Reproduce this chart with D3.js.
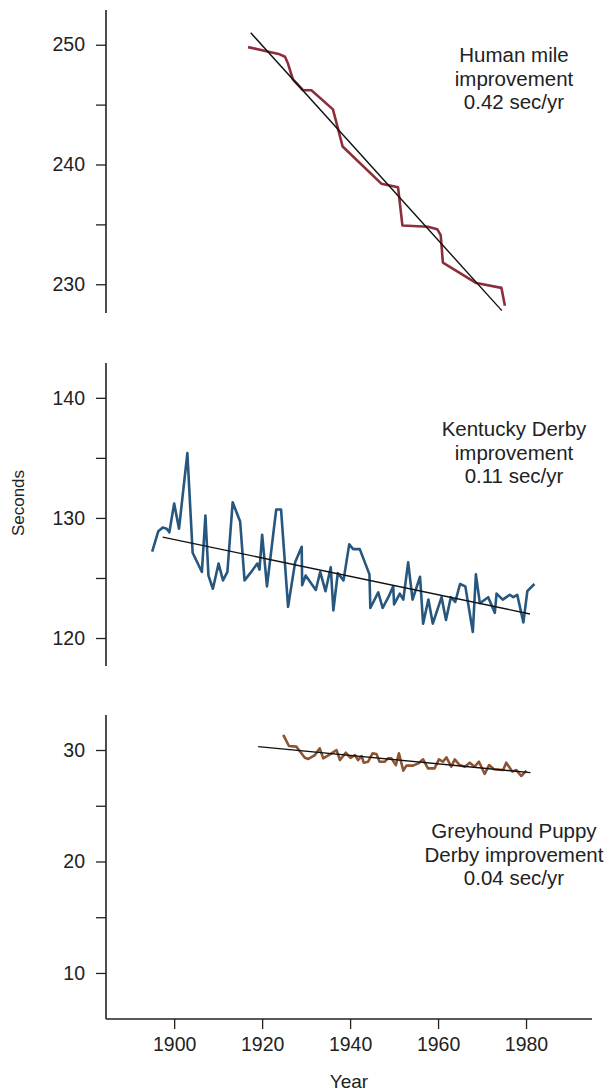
<!DOCTYPE html>
<html>
<head>
<meta charset="utf-8">
<script src="https://cdn.jsdelivr.net/npm/d3@7"></script>
<style>
    body { margin: 0; background: #fff; }
    text { font-family: "Liberation Sans", Arial, sans-serif; fill: #222; }
</style>
</head>
<body>
<svg id="chart"></svg>
<script>
// ---- data ----
const mileYears = [1916.8, 1921.7, 1924, 1925.2, 1925.8, 1927, 1929.3, 1931.2, 1936.1, 1938.3, 1947.1,
    1950.9, 1951.9, 1957.7, 1959.8, 1960.6, 1961.1, 1968.7, 1974.4, 1975.2];
const mileSeconds = [249.8, 249.4, 249.2, 249.0, 248.5, 247.1, 246.2, 246.2, 244.6, 241.5, 238.4,
    238.1, 234.9, 234.8, 234.6, 234.1, 231.8, 230.1, 229.7, 228.2];
const mileFitYears = [1917.4, 1974.5];
const mileFitSeconds = [251.0, 227.8];

const derbyYears = [1895, 1896.4, 1897.4, 1898.3, 1898.9, 1900, 1901.1, 1903, 1904.2, 1906.3,
    1907.1, 1907.8, 1908.8, 1910.1, 1911.1, 1912.1, 1913.3, 1915, 1916, 1917.3,
    1918.9, 1919.4, 1920, 1921.1, 1923.2, 1924.3, 1925.9, 1927.5, 1929, 1929.1,
    1929.9, 1932.2, 1933.2, 1934.4, 1935.6, 1936.2, 1937.2, 1938.5, 1939.8, 1940.7,
    1942.2, 1944.4, 1944.6, 1946.4, 1947.4, 1948.7, 1949.8, 1950, 1951.3, 1952.1,
    1953.2, 1954.2, 1955.9, 1956.6, 1957.8, 1958.8, 1960.8, 1961.8, 1962.9, 1963.9,
    1965, 1966.2, 1967.9, 1968.6, 1969.5, 1971.4, 1972.9, 1973.3, 1974.7, 1976.3,
    1977.1, 1978, 1979.4, 1980.3, 1981.9];
const derbySeconds = [127.2, 128.9, 129.2, 129.1, 128.8, 131.2, 129.1, 135.4, 127.1, 125.5,
    130.2, 125.2, 124.1, 126.2, 124.8, 125.5, 131.3, 129.7, 124.8, 125.4,
    126.2, 125.7, 128.6, 124.3, 130.7, 130.7, 122.6, 126.3, 127.6, 124.4,
    125.2, 124.0, 125.5, 123.9, 125.9, 122.3, 125.4, 124.8, 127.8, 127.4,
    127.4, 125.3, 122.5, 123.8, 122.5, 123.4, 124.3, 122.8, 123.7, 123.2,
    126.3, 123.2, 125.1, 121.2, 123.2, 121.2, 123.4, 121.5, 123.4, 123.0,
    124.5, 124.3, 120.5, 125.3, 122.9, 123.4, 122.1, 123.7, 123.2, 123.6,
    123.4, 123.6, 121.3, 123.9, 124.5];
const derbyFitYears = [1897.4, 1980.9];
const derbyFitSeconds = [128.4, 122.0];

const puppyYears = [1924.8, 1926.1, 1927.8, 1929.7, 1930.5, 1932, 1933.1, 1933.9, 1935.8, 1936.9,
    1937.7, 1939, 1940.1, 1941.1, 1941.8, 1942.6, 1943.1, 1944.1, 1945.1, 1946,
    1946.7, 1947.9, 1948.6, 1949.4, 1950.4, 1951.1, 1952.1, 1952.8, 1954.3, 1955.5,
    1956.6, 1957.7, 1959.2, 1960.2, 1961.1, 1961.9, 1963, 1963.8, 1964.9, 1966.1,
    1967.2, 1968.3, 1969.3, 1970.6, 1971.6, 1972.7, 1974.8, 1975.5, 1976.9, 1977.8,
    1978.9, 1980.1];
const puppySeconds = [31.35, 30.36, 30.3, 29.3, 29.2, 29.55, 30.15, 29.25, 29.7, 30.0,
    29.1, 29.76, 29.3, 29.55, 29.1, 29.46, 28.86, 28.95, 29.7, 29.64,
    28.95, 28.95, 29.25, 29.25, 28.65, 29.7, 28.15, 28.6, 28.6, 28.8,
    29.16, 28.35, 28.35, 29.16, 28.95, 29.34, 28.5, 29.16, 28.65, 28.5,
    28.86, 28.5, 28.95, 27.85, 28.65, 28.27, 28.2, 28.86, 28.06, 28.2,
    27.67, 28.15];
const puppyFitYears = [1919.1, 1981.0];
const puppyFitSeconds = [30.3, 27.97];

const mileTicks = [230, 235, 240, 245, 250];
const derbyTicks = [120, 125, 130, 135, 140];
const puppyTicks = [10, 15, 20, 25, 30];
const yearTicks = [1900, 1920, 1940, 1960, 1980];

const mileNote = ["Human mile", "improvement", "0.42 sec/yr"];
const derbyNote = ["Kentucky Derby", "improvement", "0.11 sec/yr"];
const puppyNote = ["Greyhound Puppy", "Derby improvement", "0.04 sec/yr"];

// ---- layout ----
const width = 612, height = 1092;
const left = 106, right = 592;

const svg = d3.select("#chart").attr("width", width).attr("height", height);

const x = d3.scaleLinear().domain([1884.5, 1995]).range([left, right]);

const panels = [
    { years: mileYears, secs: mileSeconds, fitX: mileFitYears, fitY: mileFitSeconds,
      ticks: mileTicks, note: mileNote, noteY: 62, color: "#8b2f3b",
      domain: [227.6, 252.9], top: 10, bottom: 313 },
    { years: derbyYears, secs: derbySeconds, fitX: derbyFitYears, fitY: derbyFitSeconds,
      ticks: derbyTicks, note: derbyNote, noteY: 436, color: "#27567e",
      domain: [117.67, 142.9], top: 363, bottom: 666 },
    { years: puppyYears, secs: puppySeconds, fitX: puppyFitYears, fitY: puppyFitSeconds,
      ticks: puppyTicks, note: puppyNote, noteY: 838, color: "#8c5433",
      domain: [5.87, 33.14], top: 715, bottom: 1019 }
];

panels.forEach(p => {
    let y = d3.scaleLinear().domain(p.domain).range([p.bottom, p.top]);

    let axis = svg.append("g")
        .attr("transform", `translate(${left}, 0)`)
        .call(d3.axisLeft(y).tickValues(p.ticks).tickSize(10).tickPadding(11)
            .tickFormat(d => d % 10 === 0 ? d : ""));
    axis.select(".domain").attr("d", `M0,${p.top}V${p.bottom}`).attr("stroke", "#222").attr("stroke-width", 1.6);
    axis.selectAll(".tick line").attr("stroke", "#222").attr("stroke-width", 1.3);
    axis.selectAll("text").style("font-size", "19.5px").attr("fill", "#222")
        .style("font-family", "'Liberation Sans', Arial, sans-serif");

    let line = d3.line().x(d => x(d[0])).y(d => y(d[1]));

    svg.append("path")
        .datum(d3.zip(p.years, p.secs))
        .attr("fill", "none")
        .attr("stroke", p.color)
        .attr("stroke-width", 2.6)
        .attr("stroke-linejoin", "round")
        .attr("d", line);

    svg.append("path")
        .datum(d3.zip(p.fitX, p.fitY))
        .attr("fill", "none")
        .attr("stroke", "#111")
        .attr("stroke-width", 1.4)
        .attr("d", line);

    svg.append("text")
        .attr("text-anchor", "middle")
        .style("font-size", "20.5px")
        .selectAll("tspan")
        .data(p.note)
        .join("tspan")
        .attr("x", 514)
        .attr("y", (d, i) => p.noteY + i * 23.5)
        .text(d => d);
});

// shared year axis under the last panel
let xAxis = svg.append("g")
    .attr("transform", `translate(0, 1019)`)
    .call(d3.axisBottom(x).tickValues(yearTicks).tickSize(10).tickPadding(8).tickFormat(d3.format("d")));
xAxis.select(".domain").attr("d", `M${left},0H${right}`).attr("stroke", "#222").attr("stroke-width", 1.6);
xAxis.selectAll(".tick line").attr("stroke", "#222").attr("stroke-width", 1.3);
xAxis.selectAll("text").style("font-size", "19.5px").attr("fill", "#222")
    .style("font-family", "'Liberation Sans', Arial, sans-serif");

svg.append("text")
    .attr("x", (left + right) / 2)
    .attr("y", 1088)
    .attr("text-anchor", "middle")
    .style("font-size", "19px")
    .text("Year");

svg.append("text")
    .attr("transform", "translate(24, 503) rotate(-90)")
    .attr("text-anchor", "middle")
    .style("font-size", "17px")
    .text("Seconds");
</script>
</body>
</html>
